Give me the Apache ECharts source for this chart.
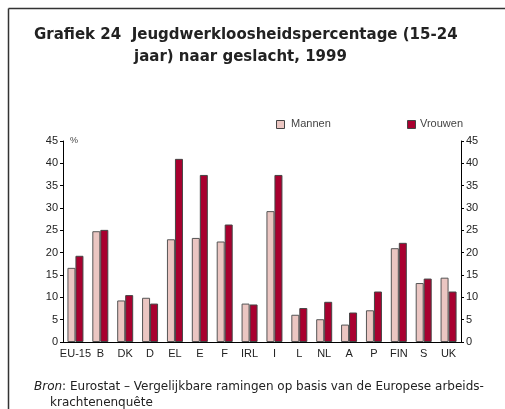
<!DOCTYPE html>
<html><head><meta charset="utf-8">
<script src="https://cdn.jsdelivr.net/npm/echarts@6/dist/echarts.min.js"></script>
<style>html,body{margin:0;padding:0;background:#fff}#c{width:505px;height:409px}</style>
</head><body><div id="c"></div>
<script>
var categories = ['EU-15','B','DK','D','EL','E','F','IRL','I','L','NL','A','P','FIN','S','UK'];
var mannen = [16.6,24.8,9.3,9.9,23.0,23.3,22.5,8.6,29.3,6.1,5.1,3.9,7.1,21.0,13.2,14.4];
var vrouwen = [19.3,25.1,10.5,8.6,41.0,37.4,26.3,8.4,37.4,7.6,9.0,6.6,11.3,22.2,14.2,11.3];
var yTicks = [0,5,10,15,20,25,30,35,40,45];

var chart = echarts.init(document.getElementById('c'), null, {renderer:'canvas'});
var font = 'Liberation Sans, Arial, sans-serif';
var font2 = 'DejaVu Sans, sans-serif';
var yAxisBase = {
  type:'value', min:0, max:45, interval:5,
  axisLine:{show:true, lineStyle:{color:'#000', width:1}},
  axisTick:{show:true, length:3, lineStyle:{color:'#000'}},
  splitLine:{show:false},
  axisLabel:{color:'#222', fontSize:11, fontFamily:font, margin:5}
};
chart.setOption({
  animation:false,
  grid:{left:63, right:44, top:141, bottom:67, containLabel:false},
  xAxis:{type:'category', data:categories,
    axisLine:{lineStyle:{color:'#000', width:1}},
    axisTick:{show:false},
    axisLabel:{color:'#222', fontSize:11, fontFamily:font, margin:6, interval:0}
  },
  yAxis:[Object.assign({position:'left'}, yAxisBase),
         Object.assign({position:'right'}, yAxisBase)],
  legend:{show:false},
  series:[
    {name:'Mannen', type:'bar', data:mannen, barWidth:8, barGap:'0%',
     itemStyle:{color:'#EBC6C2', borderColor:'#555', borderWidth:1}},
    {name:'Vrouwen', type:'bar', data:vrouwen, barWidth:8, barGap:'0%',
     itemStyle:{color:'#A8002F', borderColor:'#444', borderWidth:1}}
  ],
  graphic:[
    {type:'line', shape:{x1:8.5,y1:8.5,x2:505,y2:8.5}, style:{stroke:'#333', lineWidth:1.5}},
    {type:'line', shape:{x1:8.5,y1:8.5,x2:8.5,y2:409}, style:{stroke:'#333', lineWidth:1.5}},
    {type:'text', left:34, top:28, style:{text:'Grafiek 24  Jeugdwerkloosheidspercentage (15-24', font:'bold 15px '+font2, fill:'#222'}},
    {type:'text', left:134, top:50, style:{text:'jaar) naar geslacht, 1999', font:'bold 15px '+font2, fill:'#222'}},
    {type:'rect', shape:{x:276.5,y:120.5,width:8,height:8}, style:{fill:'#EBC6C2', stroke:'#444', lineWidth:1}},
    {type:'text', left:291, top:118, style:{text:'Mannen', font:'11px '+font, fill:'#444'}},
    {type:'rect', shape:{x:407.5,y:120.5,width:8,height:8}, style:{fill:'#A8002F', stroke:'#444', lineWidth:1}},
    {type:'text', left:420, top:118, style:{text:'Vrouwen', font:'11px '+font, fill:'#444'}},
    {type:'text', left:70, top:136, style:{text:'%', font:'9px '+font, fill:'#444'}},
    {type:'text', left:34, top:381, style:{text:'{i|Bron}: Eurostat – Vergelijkbare ramingen op basis van de Europese arbeids-', font:'12px '+font2, fill:'#222', rich:{i:{fontStyle:'italic', fontSize:12, fontFamily:font2, fill:'#222'}}}},
    {type:'text', left:50, top:397, style:{text:'krachtenenquête', font:'12px '+font2, fill:'#222'}}
  ]
});
</script></body></html>
